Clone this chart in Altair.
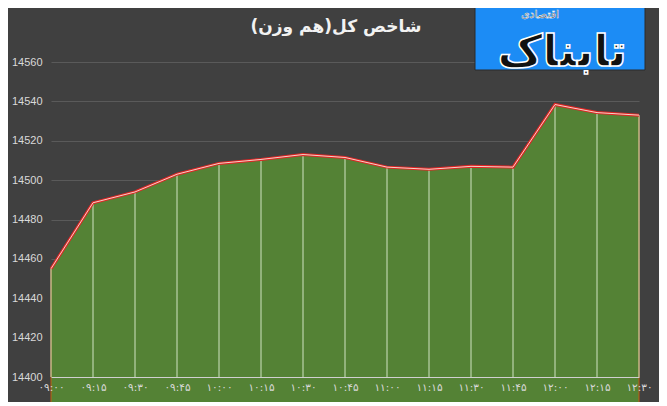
import altair as alt
import pandas as pd

times = ["۰۹:۰۰", "۰۹:۱۵", "۰۹:۳۰", "۰۹:۴۵", "۱۰:۰۰", "۱۰:۱۵", "۱۰:۳۰", "۱۰:۴۵",
         "۱۱:۰۰", "۱۱:۱۵", "۱۱:۳۰", "۱۱:۴۵", "۱۲:۰۰", "۱۲:۱۵", "۱۲:۳۰"]
values = [14455, 14488.5, 14494, 14503, 14508.5, 14510.5, 14513, 14511.5,
          14506.6, 14505.5, 14507, 14506.6, 14538.4, 14534.3, 14533]
y_ticks = [14400, 14420, 14440, 14460, 14480, 14500, 14520, 14540, 14560]
title_text = "شاخص کل(هم وزن)"
logo_main = "تابناک"
logo_sub = "اقتصادی"

df = pd.DataFrame({"time": times, "value": values})

x_enc = alt.X("time:O", sort=times, scale=alt.Scale(type="point", padding=0),
              axis=alt.Axis(title=None, labelAngle=0, ticks=False, domain=True,
                            domainColor="#d0d0d0", domainWidth=1.2, labelColor="#d9d9d9",
                            labelFont="DejaVu Sans", labelFontSize=10.5, labelPadding=5,
                            labelOverlap=False, grid=False, zindex=1))
y_enc = alt.Y("value:Q", scale=alt.Scale(domain=[14400, 14560], nice=False, zero=False),
              axis=alt.Axis(title=None, values=y_ticks, tickCount=20, format="d",
                            labelOverlap=False, ticks=False, domain=False,
                            gridColor="#5a5a5a", gridWidth=1, labelColor="#d9d9d9",
                            labelFont="Liberation Sans", labelFontSize=11, labelPadding=9))

base = alt.Chart(df).encode(x=x_enc, y=y_enc)
area = base.mark_area(color="#548235", stroke="#c55a11", strokeWidth=1, opacity=1)
rules = base.mark_rule(color="#cfe3c2", strokeWidth=1).encode(y2=alt.datum(14400))
line_red = base.mark_line(color="#e02525", strokeWidth=3)
line_light = base.mark_line(color="#f6d2c8", strokeWidth=1)

one = pd.DataFrame({"t": [title_text], "m": [logo_main], "s": [logo_sub]})
title = alt.Chart(one).mark_text(font="DejaVu Sans", fontSize=17, fontWeight="bold",
                                 color="#f2f2f2", align="center", baseline="middle").encode(
    text="t:N", x=alt.value(285), y=alt.value(-35))
logo_rect = alt.Chart(one).mark_rect(color="#1c8cf5", stroke="#2a2a2a", strokeWidth=1).encode(
    x=alt.value(424), x2=alt.value(594), y=alt.value(-57), y2=alt.value(8))
logo_txt = alt.Chart(one).mark_text(font="DejaVu Sans", fontSize=44, fontWeight="bold",
                                    color="#111111", stroke="#ffffff", strokeWidth=1.5,
                                    align="center", baseline="middle").encode(
    text="m:N", x=alt.value(511), y=alt.value(-9))
logo_sub_txt = alt.Chart(one).mark_text(font="DejaVu Sans", fontSize=11, color="#111111",
                                        stroke="#ffffff", strokeWidth=0.5,
                                        align="center", baseline="middle").encode(
    text="s:N", x=alt.value(489), y=alt.value(-47))

chart = alt.layer(area, rules, line_red, line_light, title, logo_rect, logo_txt, logo_sub_txt).properties(
    width=588, height=315,
    autosize=alt.AutoSizeParams(type="none"),
    padding={"left": 43, "top": 54, "right": 20, "bottom": 25},
    background="#404040",
).configure_view(stroke=None)

chart.save("out.html", embed_options={"renderer": "svg", "actions": False})
